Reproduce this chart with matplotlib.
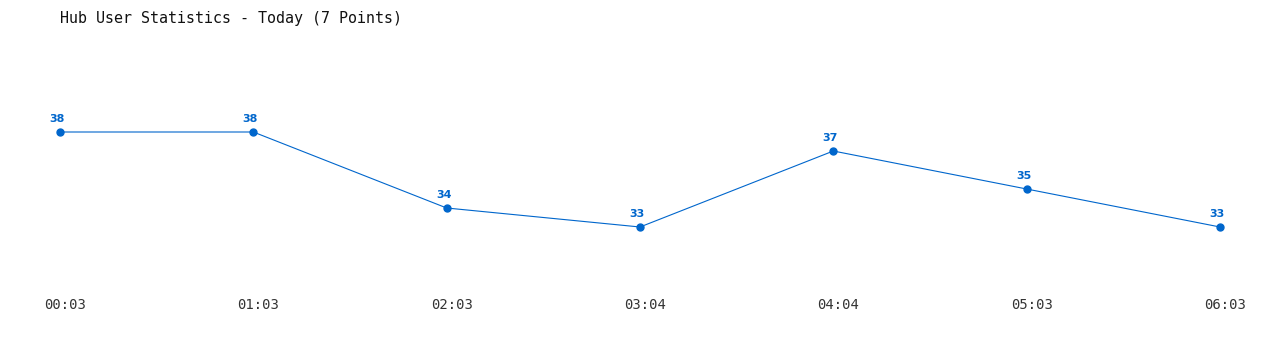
import matplotlib
matplotlib.use("Agg")
import matplotlib.pyplot as plt
import matplotlib.transforms as mtransforms

times = ["00:03", "01:03", "02:03", "03:04", "04:04", "05:03", "06:03"]
users = [38, 38, 34, 33, 37, 35, 33]

W, H = 1280, 350
fig = plt.figure(figsize=(W / 100, H / 100), dpi=100)
fig.patch.set_facecolor("white")

# axes covering pixel x 60..1220, y 60..290 (from top)
ax = fig.add_axes([60 / W, (H - 290) / H, 1160 / W, 230 / H])
ax.set_xlim(0, len(times) - 1)
ax.set_ylim(38 - (290 - 132) / 19, 38 + (132 - 60) / 19)

color = "#0066cc"
xs = list(range(len(times)))
ax.plot(xs, users, color=color, linewidth=0.8, marker="o", markersize=5,
        clip_on=False, zorder=3)
for x, v in zip(xs, users):
    ax.annotate(str(v), (x, v), xytext=(-3, 13), textcoords="offset pixels",
                ha="center", va="center", fontsize=8, fontweight="bold",
                color=color, family="DejaVu Sans")

ax.set_xticks(xs)
ax.set_xticklabels(times, family="DejaVu Sans Mono", fontsize=10, color="#333333")
ax.tick_params(axis="x", length=0, pad=6)
shift = mtransforms.ScaledTranslation(5 / 100, 0, fig.dpi_scale_trans)
for lbl in ax.get_xticklabels():
    lbl.set_transform(lbl.get_transform() + shift)
ax.set_yticks([])
for s in ax.spines.values():
    s.set_visible(False)

fig.text(60 / W, 1 - 18 / H, "Hub User Statistics - Today (7 Points)",
         family="DejaVu Sans Mono", fontsize=10.8, color="#111111",
         ha="left", va="center")

fig.savefig("out.png", dpi=100, facecolor="white")
